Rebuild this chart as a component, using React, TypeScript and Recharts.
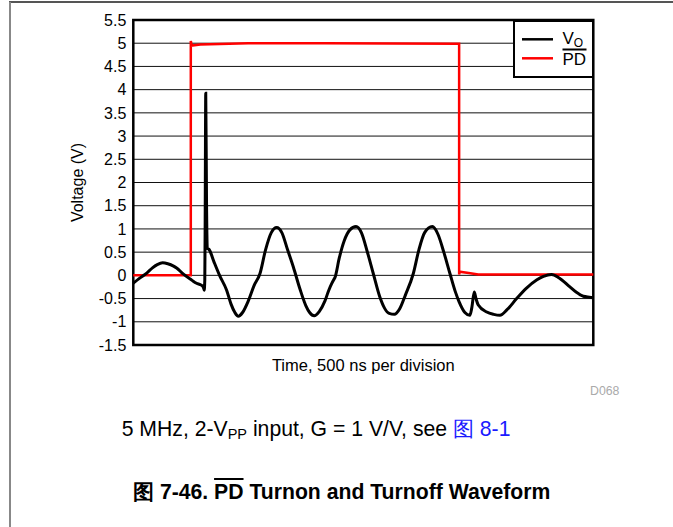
import React from "react";
import { CartesianGrid, Legend, Line, LineChart, ReferenceArea, XAxis, YAxis } from "recharts";

// time axis in divisions (500 ns each), voltage in V
const xTicks = Array.from({ length: 25 }, (_, i) => i);
const yTicks = [-1.5, -1, -0.5, 0, 0.5, 1, 1.5, 2, 2.5, 3, 3.5, 4, 4.5, 5, 5.5];

const voTime = [
  0, 0.3, 0.7, 1.0, 1.25, 1.53, 1.8, 2.1, 2.26, 2.6, 3.04, 3.3, 3.55, 3.65, 3.7, 3.73, 3.75, 3.78, 3.82,
  3.86, 3.95, 4.2, 4.5, 4.87, 5.1, 5.3, 5.48, 5.7, 6.0, 6.3, 6.61, 6.9, 7.2, 7.48, 7.75, 8.05, 8.35, 8.7,
  9.0, 9.2, 9.44, 9.7, 10.0, 10.2, 10.35, 10.45, 10.52, 10.75, 11.0, 11.3, 11.62, 11.9, 12.2, 12.52,
  12.85, 13.1, 13.35, 13.62, 13.9, 14.2, 14.61, 14.9, 15.2, 15.6, 15.9, 16.2, 16.52, 16.8, 17.0, 17.3,
  17.56, 17.66, 17.79, 17.88, 18.0, 18.44, 18.8, 19.13, 19.5, 20.0, 20.5, 21.04, 21.4, 21.82, 22.2,
  22.78, 23.1, 23.48, 23.8, 24.0,
];
const voVolts = [
  -0.17, -0.07, 0.05, 0.16, 0.23, 0.27, 0.25, 0.2, 0.16, 0.03, -0.1, -0.17, -0.21, -0.25, -0.32, -0.1, 1.2,
  3.92, 1.6, 0.58, 0.56, 0.3, 0.0, -0.32, -0.62, -0.8, -0.88, -0.8, -0.55, -0.22, 0.04, 0.55, 0.92, 1.03,
  0.92, 0.55, 0.18, -0.3, -0.65, -0.8, -0.87, -0.78, -0.55, -0.32, -0.18, -0.1, -0.05, 0.38, 0.74, 0.98,
  1.05, 0.92, 0.52, 0.04, -0.45, -0.7, -0.82, -0.84, -0.72, -0.42, 0.04, 0.55, 0.92, 1.05, 0.88, 0.5,
  0.04, -0.35, -0.57, -0.8, -0.86, -0.7, -0.36, -0.5, -0.64, -0.79, -0.84, -0.86, -0.74, -0.5, -0.28,
  -0.1, -0.02, 0.02, -0.05, -0.25, -0.36, -0.45, -0.47, -0.48,
];

const pdTime = [0, 3.0, 3.0, 3.05, 3.5, 4.0, 5.0, 6.0, 10.0, 17.0, 17.0, 17.03, 17.5, 18.0, 24.0];
const pdVolts = [0.0, 0.0, 5.05, 4.95, 4.97, 4.98, 4.99, 5.0, 5.0, 4.99, 0.02, 0.08, 0.05, 0.02, 0.02];

const voData = voTime.map((t, i) => ({ t, v: voVolts[i] }));
const pdData = pdTime.map((t, i) => ({ t, v: pdVolts[i] }));

const font = '"Liberation Sans", Arial, sans-serif';

function LegendBox() {
  return (
    <div style={{ width: 81, height: 58, boxSizing: "border-box", border: "2px solid #000", background: "#fff" }}>
      <svg width={77} height={54} style={{ display: "block" }}>
        <line x1={7} x2={38} y1={17.3} y2={17.3} stroke="#000" strokeWidth={2.5} />
        <line x1={7} x2={38} y1={36.3} y2={36.3} stroke="#ff0000" strokeWidth={2.5} />
        <text x={47.5} y={22.3} fontSize={17} fontFamily={font} fill="#000">
          V<tspan fontSize={12} dy={3}>O</tspan>
        </text>
        <line x1={47.5} x2={71.5} y1={27.5} y2={27.5} stroke="#000" strokeWidth={2} />
        <text x={47.5} y={43} fontSize={17} fontFamily={font} fill="#000">
          PD
        </text>
      </svg>
    </div>
  );
}

export default function App() {
  return (
    <div style={{ position: "absolute", left: 0, top: 0, width: 673, height: 527, background: "#fff", fontFamily: font }}>
      <div style={{ position: "absolute", left: 9, top: 1, width: 664, height: 1.5, background: "#555" }} />
      <div style={{ position: "absolute", left: 9, top: 2, width: 2, height: 525, background: "#888" }} />

      <div style={{ position: "absolute", left: 0, top: 0 }}>
        <LineChart width={673} height={380} margin={{ top: 20, right: 79.7, bottom: 0, left: 0 }}>
          <CartesianGrid stroke="#111" strokeWidth={1} />
          <XAxis
            type="number"
            dataKey="t"
            domain={[0, 24]}
            ticks={xTicks}
            tick={false}
            axisLine={false}
            tickLine={false}
            height={35}
            allowDuplicatedCategory={false}
            label={{ value: "Time, 500 ns per division", position: "insideBottom", offset: 9, fontSize: 16.5, fill: "#000", fontFamily: font }}
          />
          <YAxis
            type="number"
            domain={[-1.5, 5.5]}
            ticks={yTicks}
            width={133.3}
            axisLine={false}
            tickLine={false}
            tickSize={4}
            tickMargin={3}
            interval={0}
            tick={{ fontSize: 16, fill: "#000", fontFamily: font }}
            label={{ value: "Voltage (V)", angle: -90, position: "insideLeft", offset: 77, fontSize: 16, fill: "#000", fontFamily: font, style: { textAnchor: "middle" } }}
          />
          <ReferenceArea x1={0} x2={24} y1={-1.5} y2={5.5} fill="none" stroke="#000" strokeWidth={2.5} ifOverflow="visible" />
          <Line data={pdData} dataKey="v" type="linear" stroke="#ff0000" strokeWidth={2.5} dot={false} isAnimationActive={false} name="PD" />
          <Line data={voData} dataKey="v" type="monotone" stroke="#000" strokeWidth={3} dot={false} isAnimationActive={false} name="VO" />
          <Legend
            layout="vertical"
            align="center"
            verticalAlign="middle"
            wrapperStyle={{ left: 512.7, top: 20, width: 81, height: 58 }}
            content={() => <LegendBox />}
          />
        </LineChart>
      </div>

      <div style={{ position: "absolute", left: 590, top: 385, fontSize: 12.3, color: "#aaa", lineHeight: 1 }}>D068</div>

      <div style={{ position: "absolute", left: 121.7, top: 417.7, fontSize: 21.2, color: "#000", lineHeight: 1, whiteSpace: "nowrap" }}>
        5 MHz, 2-V<sub style={{ fontSize: 14.5, verticalAlign: -3, lineHeight: 0 }}>PP</sub> input, G = 1 V/V, see{" "}
        <span style={{ color: "#1a1aff" }}>图 8-1</span>
      </div>

      <div style={{ position: "absolute", left: 133, top: 481, fontSize: 21.2, fontWeight: "bold", color: "#000", lineHeight: 1, whiteSpace: "nowrap" }}>
        图 7-46. <span style={{ textDecoration: "overline" }}>PD</span> Turnon and Turnoff Waveform
      </div>
    </div>
  );
}
